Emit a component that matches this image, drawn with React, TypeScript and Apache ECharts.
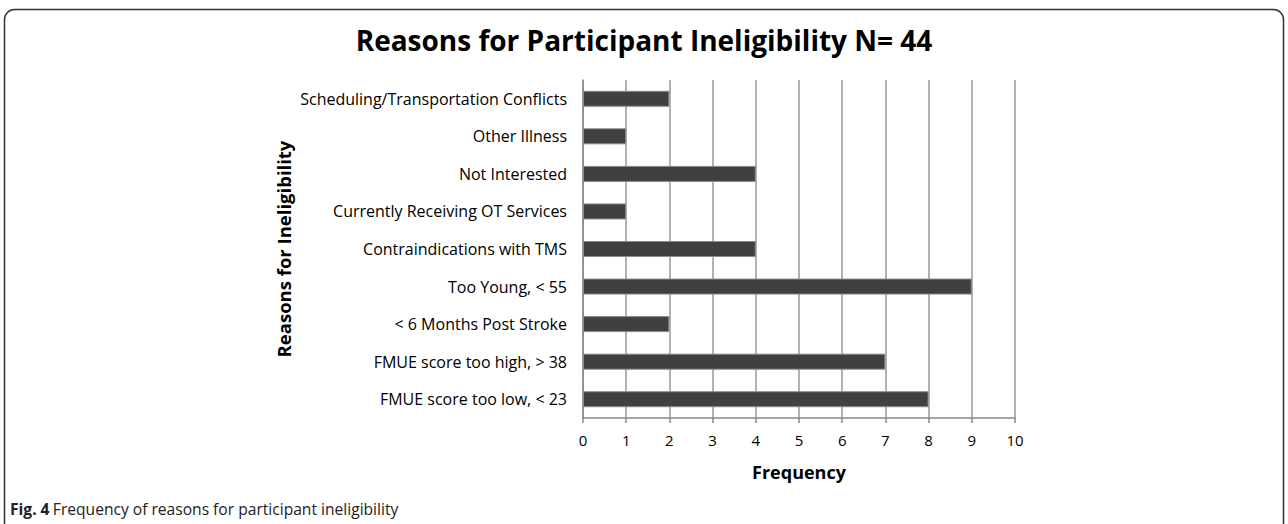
import React, { useEffect, useRef } from "react";
import * as echarts from "echarts";

const categories = [
  "FMUE score too low, < 23",
  "FMUE score too high, > 38",
  "< 6 Months Post Stroke",
  "Too Young, < 55",
  "Contraindications with TMS",
  "Currently Receiving OT Services",
  "Not Interested",
  "Other Illness",
  "Scheduling/Transportation Conflicts",
];
const frequency = [8, 7, 2, 9, 4, 1, 4, 1, 2];
const titleText = "Reasons for Participant Ineligibility N= 44";
const xName = "Frequency";
const yName = "Reasons for Ineligibility";

const FONT = "'Open Sans', Lato, sans-serif";

export default function App() {
  const ref = useRef<HTMLDivElement>(null);
  useEffect(() => {
    if (!ref.current) return;
    const chart = echarts.init(ref.current, undefined, { renderer: "svg" });
    chart.setOption({
      animation: false,
      backgroundColor: "#fff",
      textStyle: { fontFamily: FONT },
      title: {
        text: titleText,
        left: "center",
        top: 21,
        textStyle: { fontFamily: FONT, fontSize: 28, fontWeight: "bold", color: "#000" },
      },
      grid: { left: 583, right: 273, top: 80, bottom: 106 },
      xAxis: {
        type: "value",
        min: 0,
        max: 10,
        interval: 1,
        name: xName,
        nameLocation: "middle",
        nameGap: 45,
        nameTextStyle: { fontFamily: FONT, fontSize: 18, fontWeight: "bold", color: "#000" },
        axisLine: { show: true, lineStyle: { color: "#888", width: 1.5 } },
        axisTick: { show: true, length: 5, lineStyle: { color: "#888", width: 1.5 } },
        axisLabel: { fontFamily: FONT, fontSize: 15, color: "#000", margin: 14 },
        splitLine: { show: true, lineStyle: { color: "#999", width: 1.5 } },
      },
      yAxis: {
        type: "category",
        data: categories,
        name: yName,
        nameLocation: "middle",
        nameGap: 290,
        nameRotate: 90,
        nameTextStyle: { fontFamily: FONT, fontSize: 18.5, fontWeight: "bold", color: "#000" },
        axisLine: { show: true, lineStyle: { color: "#888", width: 1.5 } },
        axisTick: { show: false },
        axisLabel: { fontFamily: FONT, fontSize: 16, color: "#000", margin: 16 },
        splitLine: { show: false },
      },
      series: [
        {
          type: "bar",
          data: frequency,
          barWidth: 16,
          itemStyle: { color: "#404040", borderColor: "#8a8a8a", borderWidth: 1 },
        },
      ],
      graphic: [
        {
          type: "rect",
          shape: { x: 4.5, y: 9.5, width: 1279, height: 540, r: 10 },
          style: { fill: "none", stroke: "#333", lineWidth: 1.5 },
          silent: true,
        },
        {
          type: "text",
          left: 10,
          top: 501,
          style: {
            rich: {
              b: { fontFamily: "'Open Sans', sans-serif", fontSize: 15.6, fontWeight: "bold", fill: "#222" },
              n: { fontFamily: "'Open Sans', sans-serif", fontSize: 15.6, fill: "#222" },
            },
            text: "{b|Fig. 4} {n|Frequency of reasons for participant ineligibility}",
          },
        },
      ],
    });
    return () => chart.dispose();
  }, []);
  return (
    <div
      ref={ref}
      style={{ position: "absolute", left: 0, top: 0, width: 1288, height: 524 }}
    />
  );
}
